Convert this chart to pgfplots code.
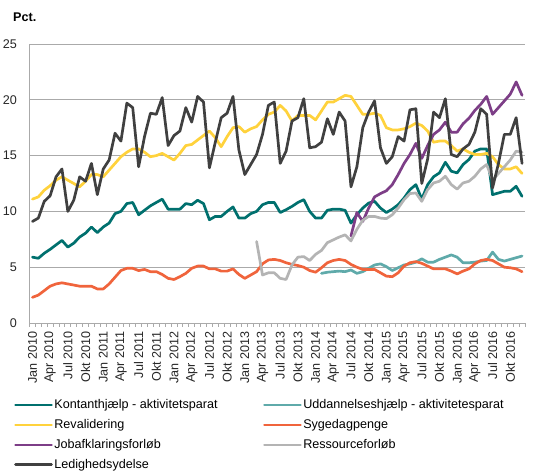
\documentclass[border=0pt]{standalone}
\usepackage{fontspec}
\setmainfont{Liberation Sans}
\usepackage{pgfplots}
\usepackage{pgfplotstable}
\pgfplotsset{compat=1.18}
\definecolor{cKont}{RGB}{0,112,110}
\definecolor{cUdd}{RGB}{95,170,170}
\definecolor{cRev}{RGB}{255,210,60}
\definecolor{cSyg}{RGB}{240,100,60}
\definecolor{cJob}{RGB}{125,62,135}
\definecolor{cRes}{RGB}{180,180,180}
\definecolor{cLed}{RGB}{64,64,64}
\definecolor{cGrid}{RGB}{170,170,170}

\pgfplotstableread{
i k u r s j res l
0 5.9 nan 11.1 2.3 nan nan 9.1
1 5.8 nan 11.3 2.5 nan nan 9.4
2 6.25 nan 11.9 2.9 nan nan 10.9
3 6.6 nan 12.3 3.3 nan nan 11.4
4 7.0 nan 12.8 3.5 nan nan 13.1
5 7.4 nan 13.1 3.6 nan nan 13.8
6 6.8 nan 12.8 3.5 nan nan 10.0
7 7.15 nan 12.5 3.4 nan nan 11.0
8 7.7 nan 12.2 3.3 nan nan 13.1
9 8.05 nan 12.7 3.3 nan nan 12.7
10 8.6 nan 13.3 3.3 nan nan 14.3
11 8.1 nan 13.3 3.05 nan nan 11.5
12 8.6 nan 13.1 3.05 nan nan 13.8
13 8.95 nan 13.7 3.5 nan nan 14.6
14 9.8 nan 14.3 4.1 nan nan 17.0
15 10.0 nan 14.9 4.7 nan nan 16.3
16 10.7 nan 15.3 4.9 nan nan 19.7
17 10.8 nan 15.6 4.9 nan nan 19.3
18 9.7 nan 15.6 4.7 nan nan 14.0
19 10.1 nan 15.3 4.8 nan nan 16.7
20 10.5 nan 14.9 4.6 nan nan 18.8
21 10.8 nan 15.0 4.6 nan nan 18.7
22 11.1 nan 15.2 4.35 nan nan 20.2
23 10.2 nan 14.9 4.0 nan nan 15.9
24 10.2 nan 14.6 3.9 nan nan 16.8
25 10.2 nan 15.2 4.15 nan nan 17.2
26 10.7 nan 15.9 4.45 nan nan 19.3
27 10.6 nan 16.0 4.9 nan nan 18.0
28 11.0 nan 16.4 5.1 nan nan 20.3
29 10.7 nan 16.8 5.1 nan nan 19.8
30 9.25 nan 17.2 4.85 nan nan 13.9
31 9.55 nan 16.6 4.85 nan nan 16.2
32 9.55 nan 15.8 4.65 nan nan 18.4
33 10.0 nan 16.7 4.65 nan nan 18.8
34 10.4 nan 17.5 4.85 nan nan 20.3
35 9.4 nan 17.6 4.35 nan nan 15.5
36 9.4 nan 17.1 4.0 nan nan 13.3
37 9.8 nan 17.4 4.3 nan nan 14.2
38 10.0 nan 17.6 4.6 nan 7.3 15.1
39 10.6 nan 18.2 5.3 nan 4.3 16.9
40 10.8 nan 18.7 5.65 nan 4.5 19.5
41 10.8 nan 18.9 5.7 nan 4.5 19.8
42 9.9 nan 19.5 5.6 nan 4.0 14.3
43 10.15 nan 19.0 5.4 nan 3.9 15.4
44 10.45 nan 18.1 5.25 nan 5.2 18.1
45 10.8 nan 18.6 5.15 nan 5.9 18.4
46 11.05 nan 18.6 5.0 nan 5.95 20.1
47 10.0 nan 18.6 4.7 nan 5.6 15.7
48 9.4 nan 18.2 4.55 nan 6.15 15.8
49 9.4 4.45 19.0 4.95 nan 6.5 16.2
50 10.1 4.55 19.8 5.4 nan 7.2 18.3
51 10.2 4.6 19.8 5.6 nan 7.45 16.9
52 10.2 4.65 20.1 5.7 nan 7.7 18.9
53 10.1 4.6 20.4 5.6 nan 7.9 18.1
54 8.95 4.75 20.3 5.25 7.8 7.35 12.2
55 9.7 4.45 19.5 5.0 9.9 8.4 14.0
56 10.3 4.6 18.7 4.8 9.1 9.2 17.5
57 10.75 4.9 18.7 4.8 10.3 9.55 18.9
58 10.9 5.2 18.8 4.8 11.3 9.55 19.9
59 10.3 5.3 18.6 4.5 11.6 9.4 15.7
60 9.9 5.05 17.5 4.2 11.85 9.35 14.3
61 10.2 4.7 17.3 4.15 12.4 9.7 14.9
62 10.6 4.95 17.3 4.5 13.3 10.3 16.7
63 11.2 5.2 17.4 5.1 14.3 11.05 16.3
64 11.95 5.3 17.6 5.4 15.1 11.6 19.1
65 12.4 5.45 17.9 5.5 16.1 11.65 19.2
66 11.1 5.75 17.7 5.35 14.75 10.9 12.5
67 12.4 5.45 17.2 5.1 15.9 11.95 14.7
68 13.1 5.45 16.2 4.85 16.9 12.55 18.9
69 13.45 5.7 16.3 4.85 17.3 12.7 18.4
70 14.4 5.9 16.3 4.85 18.0 13.15 20.1
71 13.6 6.1 15.9 4.65 17.1 12.4 15.1
72 13.45 5.9 15.4 4.4 17.1 12.0 14.9
73 14.2 5.4 15.6 4.65 17.85 12.55 15.6
74 14.65 5.4 15.3 4.85 18.35 12.7 16.0
75 15.4 5.45 15.1 5.3 19.05 13.15 17.1
76 15.6 5.55 15.1 5.6 19.6 13.8 19.2
77 15.6 5.6 15.2 5.7 20.3 14.2 18.7
78 11.5 6.35 14.9 5.6 18.7 12.8 12.1
79 11.65 5.7 14.2 5.3 19.3 13.4 14.3
80 11.8 5.55 13.8 5.0 19.9 14.0 16.9
81 11.8 5.7 13.8 4.95 20.5 14.6 16.9
82 12.25 5.85 14.0 4.85 21.6 15.4 18.4
83 11.35 6.0 13.4 4.6 20.4 15.3 14.3
}\datatable

\begin{document}
\begin{tikzpicture}
\begin{axis}[
  scale only axis,
  width=495.5bp, height=279bp,
  xmin=-0.5, xmax=83.5, ymin=0, ymax=25,
  axis x line*=bottom, axis y line*=left,
  axis line style={-, draw=cGrid, line width=0.9bp},
  ytick={0,5,...,25},
  ymajorgrids,
  grid style={draw=cGrid, line width=0.9bp},
  xtick={0,3,...,81},
  xticklabels={Jan 2010,Apr 2010,Jul 2010,Okt 2010,Jan 2011,Apr 2011,Jul 2011,Okt 2011,Jan 2012,Apr 2012,Jul 2012,Okt 2012,Jan 2013,Apr 2013,Jul 2013,Okt 2013,Jan 2014,Apr 2014,Jul 2014,Okt 2014,Jan 2015,Apr 2015,Jul 2015,Okt 2015,Jan 2016,Apr 2016,Jul 2016,Okt 2016},
  minor xtick={-0.5,0.5,...,83.5},
  major tick length=0pt,
  minor tick length=3.5bp,
  tick align=outside,
  minor tick style={draw=cGrid, line width=0.8bp},
  tick label style={font=\fontsize{12.6bp}{14bp}\selectfont, text=black!85},
  /pgf/number format/assume math mode=true,
  xticklabel style={rotate=90, anchor=east},
  xticklabel shift=5bp,
  yticklabel shift=9bp,
  every axis plot/.append style={line width=2.7bp, line join=round, line cap=round},
  legend columns=2,
  legend cell align=left,
  legend image code/.code={\draw[#1] (0bp,0bp) -- (36bp,0bp);},
  legend style={at={(axis description cs:-0.0313,-0.258)}, anchor=north west,
    draw=none, fill=none, inner sep=0pt,
    font=\fontsize{12.6bp}{14bp}\selectfont,
    nodes={inner xsep=1.5bp, inner ysep=3.8bp, text height=9.5bp, text depth=2.8bp},
    /tikz/every even column/.append style={column sep=44bp}},
]
\addplot[cKont] table[x=i, y=k] {\datatable};
\addlegendentry{Kontanthjælp - aktivitetsparat}
\addplot[cUdd] table[x=i, y=u] {\datatable};
\addlegendentry{Uddannelseshjælp - aktivitetesparat}
\addplot[cRev] table[x=i, y=r] {\datatable};
\addlegendentry{Revalidering}
\addplot[cSyg] table[x=i, y=s] {\datatable};
\addlegendentry{Sygedagpenge}
\addplot[cJob] table[x=i, y=j] {\datatable};
\addlegendentry{Jobafklaringsforløb}
\addplot[cRes] table[x=i, y=res] {\datatable};
\addlegendentry{Ressourceforløb}
\addplot[cLed] table[x=i, y=l] {\datatable};
\addlegendentry{Ledighedsydelse}
\coordinate (bl) at (rel axis cs:0,0);
\end{axis}
\node[anchor=west, inner sep=0pt, font=\bfseries\fontsize{12.6bp}{14bp}\selectfont] at ([shift={(-16.5bp,306bp)}]bl) {Pct.};
\pgfresetboundingbox
\path[use as bounding box] ([shift={(-29.5bp,-149bp)}]bl) rectangle ([shift={(504.5bp,323bp)}]bl);
\end{tikzpicture}
\end{document}
